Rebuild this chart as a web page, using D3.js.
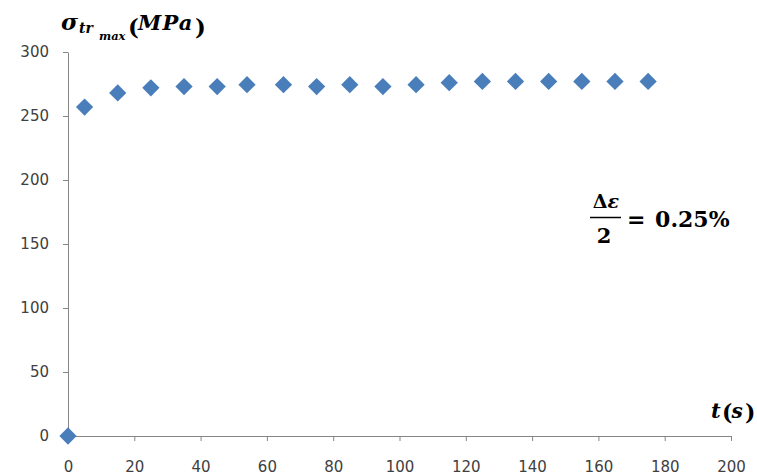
<!DOCTYPE html>
<html><head><meta charset="utf-8">
<script src="https://cdn.jsdelivr.net/npm/d3@7"></script>
<style>body{margin:0;background:#fff}svg{display:block}</style>
</head><body>
<svg id="c" width="757" height="475"></svg>
<script>
const tValues = [0, 5, 15, 25, 35, 45, 54, 65, 75, 85, 95, 105, 115, 125, 135, 145, 155, 165, 175];
const sigmaValues = [0, 257, 268, 272, 273, 273, 274.5, 274.5, 273, 274.5, 273, 274.5, 276, 277, 277, 277, 277, 277, 277];
const xTicks = [0, 20, 40, 60, 80, 100, 120, 140, 160, 180, 200];
const yTicks = [0, 50, 100, 150, 200, 250, 300];

const svg = d3.select("#c");
const x = d3.scaleLinear().domain([0, 200]).range([68, 731]);
const y = d3.scaleLinear().domain([0, 300]).range([436, 52]);
const axisColor = "#868686", textColor = "#404040";
const tickFont = "DejaVu Sans, Verdana, sans-serif";

const gx = svg.append("g").attr("transform", `translate(0,${y(0)})`)
  .call(d3.axisBottom(x).tickValues(xTicks).tickSize(5).tickSizeOuter(0).tickPadding(20));
const gy = svg.append("g").attr("transform", `translate(${x(0)},0)`)
  .call(d3.axisLeft(y).tickValues(yTicks).tickSize(5).tickSizeOuter(0).tickPadding(14));
[gx, gy].forEach(g => {
  g.select(".domain").attr("stroke", axisColor).attr("stroke-width", 1);
  g.selectAll(".tick line").attr("stroke", axisColor);
  g.selectAll(".tick text").attr("fill", textColor).style("font-family", tickFont).style("font-size", "15px");
});

const data = tValues.map((t, i) => ({t, s: sigmaValues[i]}));
svg.append("g").selectAll("path").data(data).join("path")
  .attr("d", d3.symbol().type(d3.symbolDiamond2).size(190))
  .attr("transform", d => `translate(${x(d.t)},${y(d.s)})`)
  .attr("fill", "#4A7EBB");

const mathFont = "DejaVu Serif, Liberation Serif, serif";
// Title
const title = svg.append("text")
  .style("font-family", mathFont).style("font-weight", "bold").attr("fill", "#000");
title.append("tspan").attr("x", 61).attr("y", 30).style("font-style", "italic").style("font-size", "23px").text("σ");
title.append("tspan").attr("x", 79).attr("y", 33).style("font-style", "italic").style("font-size", "14px").text("tr");
title.append("tspan").attr("x", 99).attr("y", 40).style("font-style", "italic").style("font-size", "11.5px").text("max");
title.append("tspan").attr("x", 128).attr("y", 35).style("font-size", "23px").text("(");
title.append("tspan").attr("x", 138).attr("y", 30).style("font-style", "italic").style("font-size", "21px").style("letter-spacing", "1.2px").text("MPa");
title.append("tspan").attr("x", 195).attr("y", 35).style("font-size", "23px").text(")");

// x label
const xl = svg.append("text").style("font-family", mathFont).style("font-weight", "bold").attr("fill", "#000");
xl.append("tspan").attr("x", 711).attr("y", 418).style("font-style", "italic").style("font-size", "21px").text("t");
xl.append("tspan").attr("x", 722).attr("y", 420).style("font-size", "22px").text("(");
xl.append("tspan").attr("x", 731.5).attr("y", 418).style("font-style", "italic").style("font-size", "20px").text("s");
xl.append("tspan").attr("x", 745).attr("y", 420).style("font-size", "22px").text(")");

// annotation
const ann = svg.append("g").style("font-family", mathFont).style("font-weight", "bold").attr("fill", "#000");
const num = ann.append("text").attr("x", 606).attr("y", 208).attr("text-anchor", "middle");
num.append("tspan").style("font-size", "19px").text("Δ");
num.append("tspan").style("font-style", "italic").style("font-size", "19px").text("ε");
ann.append("line").attr("x1", 590).attr("x2", 621).attr("y1", 217.5).attr("y2", 217.5).attr("stroke", "#000").attr("stroke-width", 1.5);
ann.append("text").attr("x", 604).attr("y", 243).attr("text-anchor", "middle").style("font-size", "21px").text("2");
ann.append("text").attr("x", 627).attr("y", 227).style("font-size", "22px").style("word-spacing", "2px").text("= 0.25%");
</script>
</body></html>
